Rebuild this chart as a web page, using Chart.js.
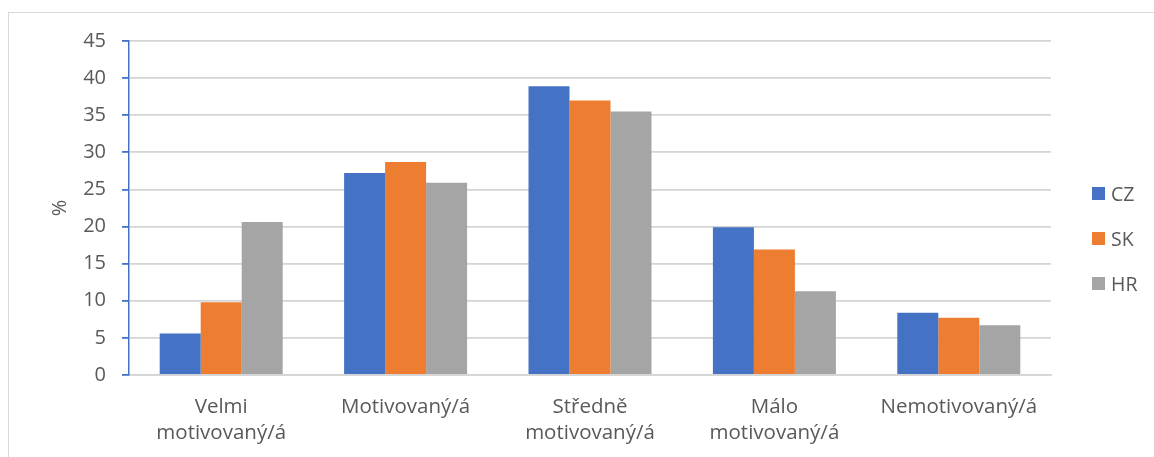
<!DOCTYPE html>
<html>
<head>
<meta charset="utf-8">
<script src="https://cdn.jsdelivr.net/npm/chart.js@4.4.1/dist/chart.umd.min.js"></script>
<style>
  html, body { margin: 0; padding: 0; background: #fff; }
  #wrap { position: relative; width: 1154px; height: 457px; overflow: hidden; }
  #frame { position: absolute; left: 8px; top: 12px; width: 1200px; height: 500px;
           border-top: 1px solid #d9d9d9; border-left: 1px solid #d9d9d9; }
  #chart { position: absolute; left: 0; top: 0; }
  .leg { position: absolute; left: 1092px; height: 24px; display: flex; align-items: center;
         font-family: "Open Sans", sans-serif; font-size: 19.5px; color: #595959; }
  .leg span.box { width: 13px; height: 13px; margin-right: 6px; display: inline-block; }
</style>
</head>
<body>
<div id="wrap">
  <div id="frame"></div>
  <canvas id="chart" width="1154" height="457"></canvas>
  <div id="legend"></div>
</div>
<script>
// Motivation levels, share of respondents in percent
const categories = [
  ['Velmi', 'motivovaný/á'],
  'Motivovaný/á',
  ['Středně', 'motivovaný/á'],
  ['Málo', 'motivovaný/á'],
  'Nemotivovaný/á'
];
const seriesNames = ['CZ', 'SK', 'HR'];
const seriesColors = ['#4472C4', '#ED7D31', '#A5A5A5'];
const valuesCZ = [5.6, 27.2, 38.9, 19.9, 8.4];
const valuesSK = [9.8, 28.7, 37.0, 16.9, 7.7];
const valuesHR = [20.6, 25.9, 35.5, 11.3, 6.7];
const yMin = 0, yMax = 45, yStep = 5;
const yTitle = '%';

const seriesValues = [valuesCZ, valuesSK, valuesHR];
const textColor = '#595959';
const fontFamily = '"Open Sans", sans-serif';

const chart = new Chart(document.getElementById('chart'), {
  type: 'bar',
  data: {
    labels: categories,
    datasets: seriesNames.map((name, i) => ({
      label: name,
      data: seriesValues[i],
      backgroundColor: seriesColors[i],
      borderWidth: 0,
      barPercentage: 1.0,
      categoryPercentage: 0.667
    }))
  },
  options: {
    responsive: false,
    devicePixelRatio: 1,
    animation: false,
    layout: { padding: { top: 41, right: 103, bottom: 0, left: 0 } },
    plugins: {
      legend: { display: false },
      tooltip: { enabled: false }
    },
    scales: {
      x: {
        grid: { display: false, drawTicks: false },
        border: { display: true, color: '#d4d4d4', width: 1.8 },
        ticks: {
          color: textColor,
          font: { family: fontFamily, size: 20.5, lineHeight: 1.27 },
          padding: 19,
          maxRotation: 0,
          autoSkip: false
        },
        afterFit: (s) => { s.height = 82; }
      },
      y: {
        min: yMin,
        max: yMax,
        ticks: {
          stepSize: yStep,
          color: textColor,
          font: { family: fontFamily, size: 20 },
          padding: 16
        },
        grid: {
          color: '#d4d4d4',
          lineWidth: 1.8,
          tickColor: '#4472C4',
          tickLength: 7
        },
        border: { display: true, color: '#4472C4', width: 1.5 },
        title: {
          display: true,
          text: yTitle,
          color: textColor,
          font: { family: fontFamily, size: 20 },
          padding: { top: 48, bottom: 0 }
        },
        afterFit: (s) => { s.width = 129; }
      }
    }
  }
});

// Legend built from the dataset names and colours
const legend = document.getElementById('legend');
const legendCenters = [193, 238, 283];
seriesNames.forEach((name, i) => {
  const item = document.createElement('div');
  item.className = 'leg';
  item.style.top = (legendCenters[i] - 12) + 'px';
  const box = document.createElement('span');
  box.className = 'box';
  box.style.background = seriesColors[i];
  item.appendChild(box);
  item.appendChild(document.createTextNode(name));
  legend.appendChild(item);
});
</script>
</body>
</html>
